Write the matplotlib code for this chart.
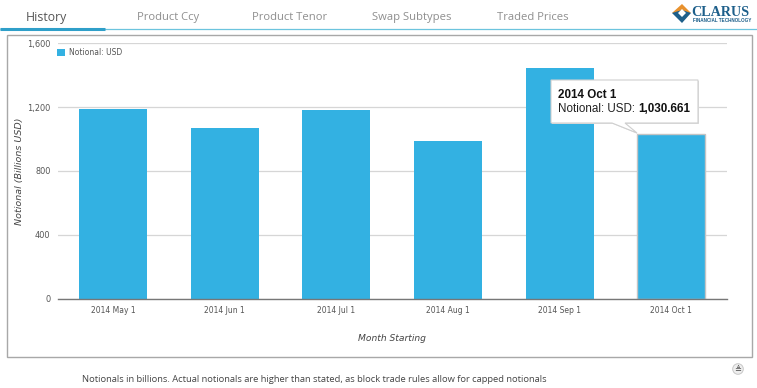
import matplotlib
matplotlib.use("Agg")
import matplotlib.pyplot as plt
from matplotlib.patches import Polygon, Rectangle, Circle

plt.rcParams["font.family"] = ["DejaVu Sans"]

months = ["2014 May 1", "2014 Jun 1", "2014 Jul 1", "2014 Aug 1", "2014 Sep 1", "2014 Oct 1"]
notional = [1187, 1070, 1180, 987, 1445, 1030.661]
y_ticks = [0, 400, 800, 1200, 1600]
tabs = ["History", "Product Ccy", "Product Tenor", "Swap Subtypes", "Traded Prices"]
tab_x = [46.5, 168.5, 290, 411.5, 533]
series_name = "Notional: USD"
BLUE = "#33b1e2"
W, H = 757, 388

fig = plt.figure(figsize=(W / 100, H / 100), dpi=100, facecolor="white")

# page furniture in pixel coordinates
bg = fig.add_axes([0, 0, 1, 1], zorder=0)
bg.set_xlim(0, W); bg.set_ylim(H, 0); bg.axis("off")
bg.add_patch(Rectangle((7, 35), 745, 322, fc="white", ec="#a8a8a8", lw=1.0))
bg.plot([0, W], [29, 29], color="#6cc4de", lw=0.9, solid_capstyle="butt")
bg.plot([0, 105], [29, 29], color="#2f9fc9", lw=2.2, solid_capstyle="butt")
for i, (t, x) in enumerate(zip(tabs, tab_x)):
    bg.text(x, 17.5, t, ha="center", va="center", family="Open Sans",
            fontsize=8.8 if i == 0 else 8.15,
            color="#555555" if i == 0 else "#8f8f8f")
bg.text(82, 380, "Notionals in billions. Actual notionals are higher than stated, as block trade rules allow for capped notionals",
        ha="left", va="center", family="Open Sans", fontsize=6.73, color="#444444")
# logo
bg.add_patch(Polygon([(672, 13), (682, 4), (691, 13)], fc="#e8912d", ec="none"))
bg.add_patch(Polygon([(672, 13), (682, 23), (691, 13), (682, 10)], fc="#1d5f8a", ec="none"))
bg.add_patch(Polygon([(678, 13), (682, 9), (686, 13), (682, 17)], fc="white", ec="none"))
bg.text(691, 12, "CLARUS", ha="left", va="center", family="Liberation Serif", fontsize=10.2,
        color="#1d5f8a", weight="bold")
bg.text(693, 20, "FINANCIAL TECHNOLOGY", ha="left", va="center", family="Liberation Sans",
        fontsize=3.3, color="#1d5f8a", weight="bold")
# export icon
bg.add_patch(Circle((738, 369), 5.3, fc="#eeeeee", ec="#c8c8c8", lw=0.7))
bg.text(738, 368.7, "≜", ha="center", va="center", fontsize=6, color="#444444")

# chart
L, R, T, B = 57.5, 727, 43, 299
ax = fig.add_axes([L / W, 1 - B / H, (R - L) / W, (B - T) / H], zorder=1, facecolor="none")
x = list(range(len(months)))
bars = ax.bar(x, notional, width=0.61, color=BLUE, zorder=2, label=series_name)
bars[-1].set_edgecolor("#c4c4c4")
bars[-1].set_linewidth(1.0)
ax.set_xlim(-0.5, 5.5)
ax.set_ylim(0, 1600)
ax.set_yticks(y_ticks)
ax.set_yticklabels([f"{v:,}" for v in y_ticks])
ax.set_xticks(x)
ax.set_xticklabels(months)
ax.tick_params(axis="y", length=0, labelsize=5.9, labelcolor="#555555", pad=5)
ax.tick_params(axis="x", length=0, labelsize=5.5, labelcolor="#555555", pad=5)
ax.grid(axis="y", color="#d6d6d6", lw=0.9, zorder=1)
ax.set_axisbelow(True)
for s in ["top", "right", "left"]:
    ax.spines[s].set_visible(False)
ax.spines["bottom"].set_color("#777777")
ax.spines["bottom"].set_linewidth(1.0)
ax.set_xlabel("Month Starting", fontsize=6.6, style="italic", color="#444444", labelpad=14)
ax.set_ylabel("Notional (Billions USD)", fontsize=6.8, style="italic", color="#444444")
ax.yaxis.set_label_coords(-0.0505, 0.5)
leg = ax.legend(loc="upper left", bbox_to_anchor=(-0.0075, 1.0), frameon=False, fontsize=5.5,
                handlelength=1.0, handleheight=1.0, handletextpad=0.55, borderpad=0.45,
                borderaxespad=0.2, labelcolor="#555555")

# tooltip in pixel coordinates
top = fig.add_axes([0, 0, 1, 1], zorder=2, facecolor="none")
top.set_xlim(0, W); top.set_ylim(H, 0); top.axis("off")
tip = [(551, 80), (698, 80), (698, 123), (625, 123), (637, 133), (612, 123), (551, 123)]
top.add_patch(Polygon([(a + 1, b + 1) for a, b in tip], fc="#dddddd", ec="none"))
top.add_patch(Polygon(tip, fc="white", ec="#cfcfcf", lw=0.8))
top.text(558, 94.5, "2014 Oct 1", ha="left", va="center", family="Liberation Sans",
         fontsize=8.4, weight="bold", color="#111111")
t = top.text(558, 109.5, "Notional: USD: ", ha="left", va="center", family="Liberation Sans",
             fontsize=8.4, color="#222222")
top.annotate("1,030.661", xy=(1, 0.5), xycoords=t, ha="left", va="center", family="Liberation Sans",
             fontsize=8.4, weight="bold", color="#111111")

fig.savefig("out.png", dpi=100, facecolor="white")
